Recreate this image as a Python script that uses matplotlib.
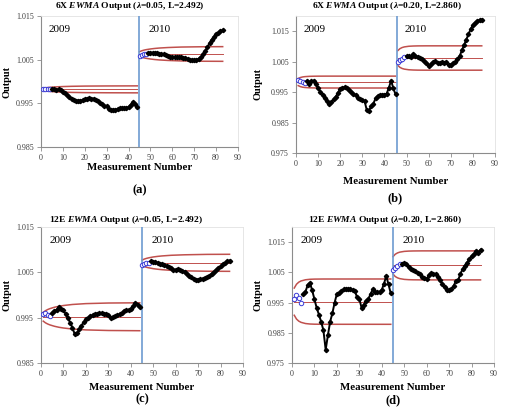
import matplotlib
matplotlib.use("Agg")
import matplotlib.pyplot as plt

plt.rcParams['font.family'] = 'Liberation Serif'
plt.rcParams['mathtext.fontset'] = 'custom'
plt.rcParams['mathtext.rm'] = 'Liberation Serif:bold'
plt.rcParams['mathtext.bf'] = 'Liberation Serif:bold'
plt.rcParams['mathtext.it'] = 'Liberation Serif:italic:bold'
plt.rcParams['mathtext.bfit'] = 'Liberation Serif:italic:bold'

# ---- data ----
# (a) 6X, lambda=0.05
a_open_x09 = [1, 2, 3, 4]
a_open_y09 = [0.9983, 0.9983, 0.9982, 0.9983]
a_x09 = list(range(5, 45))
a_y09 = [0.9983, 0.9982, 0.9981, 0.9982, 0.9980, 0.9977, 0.9973, 0.9968, 0.9964, 0.9961,
         0.9957, 0.9955, 0.9956, 0.9956, 0.9957, 0.9959, 0.9961, 0.9962, 0.9961, 0.9961,
         0.9958, 0.9955, 0.9951, 0.9948, 0.9945, 0.9943, 0.9938, 0.9935, 0.9935, 0.9935,
         0.9937, 0.9939, 0.9940, 0.9939, 0.9940, 0.9941, 0.9947, 0.9953, 0.9948, 0.9942]
a_open_x10 = [45, 46, 47, 48]
a_open_y10 = [1.0058, 1.0060, 1.0062, 1.0064]
a_x10 = list(range(49, 84))
a_y10 = [1.0065, 1.0066, 1.0066, 1.0066, 1.0065, 1.0064, 1.0063, 1.0062, 1.0060, 1.0058,
         1.0057, 1.0056, 1.0056, 1.0055, 1.0055, 1.0055, 1.0054, 1.0053, 1.0052, 1.0050,
         1.0049, 1.0049, 1.0050, 1.0052, 1.0056, 1.0062, 1.0070, 1.0078, 1.0088, 1.0096,
         1.0103, 1.0108, 1.0112, 1.0115, 1.0117]
a_lim_x09 = [1, 2, 3, 4, 6, 8, 10, 14, 20, 30, 44]
a_ucl09 = [0.99845, 0.99854, 0.99861, 0.99866, 0.99874, 0.99880, 0.99884, 0.99890, 0.99895, 0.99898, 0.99900]
a_lcl09 = [0.99795, 0.99786, 0.99779, 0.99774, 0.99766, 0.99760, 0.99756, 0.99750, 0.99745, 0.99742, 0.99740]
a_cl09 = 0.9982
a_lim_x10 = [45, 46, 47, 48, 50, 52, 54, 58, 64, 74, 83]
a_ucl10 = [1.00683, 1.00703, 1.00718, 1.00729, 1.00745, 1.00757, 1.00766, 1.00778, 1.00789, 1.00796, 1.00798]
a_lcl10 = [1.00577, 1.00557, 1.00542, 1.00531, 1.00515, 1.00503, 1.00494, 1.00482, 1.00471, 1.00464, 1.00462]
a_cl10 = 1.0063

# (b) 6X, lambda=0.20
b_open_x09 = [1, 2, 3, 4]
b_open_y09 = [0.9991, 0.9987, 0.9983, 0.9980]
b_x09 = list(range(5, 46))
b_y09 = [0.9987, 0.9975, 0.9986, 0.9988, 0.9978, 0.9962, 0.9951, 0.9942, 0.9931, 0.9922,
         0.9912, 0.9918, 0.9926, 0.9935, 0.9948, 0.9961, 0.9965, 0.9966, 0.9964, 0.9957,
         0.9950, 0.9944, 0.9939, 0.9932, 0.9928, 0.9924, 0.9921, 0.9891, 0.9889, 0.9904,
         0.9912, 0.9930, 0.9937, 0.9940, 0.9941, 0.9942, 0.9945, 0.9964, 0.9988, 0.9963, 0.9943]
b_open_x10 = [46, 47, 48, 49]
b_open_y10 = [1.0050, 1.0055, 1.0060, 1.0064]
b_x10 = list(range(50, 85))
b_y10 = [1.0067, 1.0068, 1.0066, 1.0074, 1.0070, 1.0066, 1.0062, 1.0058, 1.0052, 1.0046,
         1.0036, 1.0042, 1.0049, 1.0051, 1.0047, 1.0045, 1.0049, 1.0046, 1.0048, 1.0039,
         1.0040, 1.0044, 1.0050, 1.0058, 1.0068, 1.0087, 1.0104, 1.0122, 1.0140, 1.0157,
         1.0170, 1.0178, 1.0183, 1.0187, 1.0188]
b_lim_x09 = [1, 2, 3, 4, 6, 8, 10, 14, 45]
b_ucl09 = [0.99947, 0.99980, 0.99998, 1.00008, 1.00018, 1.00022, 1.00024, 1.00025, 1.00025]
b_lcl09 = [0.99713, 0.99680, 0.99662, 0.99652, 0.99642, 0.99638, 0.99636, 0.99635, 0.99635]
b_cl09 = 0.9983
b_lim_x10 = [46, 47, 48, 49, 51, 53, 55, 59, 84]
b_ucl10 = [1.00860, 1.00927, 1.00964, 1.00985, 1.01006, 1.01014, 1.01018, 1.01020, 1.01020]
b_lcl10 = [1.00380, 1.00313, 1.00276, 1.00255, 1.00234, 1.00226, 1.00222, 1.00220, 1.00220]
b_cl10 = 1.0062

# (c) 12E, lambda=0.05
c_open_x09 = [1, 2, 3, 4]
c_open_y09 = [0.9958, 0.9960, 0.9956, 0.9953]
c_x09 = list(range(5, 45))
c_y09 = [0.9960, 0.9964, 0.9968, 0.9973, 0.9970, 0.9966, 0.9958, 0.9949, 0.9939, 0.9928,
         0.9914, 0.9916, 0.9924, 0.9932, 0.9940, 0.9946, 0.9950, 0.9953, 0.9955, 0.9957,
         0.9959, 0.9960, 0.9960, 0.9959, 0.9958, 0.9956, 0.9950, 0.9951, 0.9954, 0.9956,
         0.9957, 0.9960, 0.9965, 0.9966, 0.9967, 0.9970, 0.9975, 0.9983, 0.9979, 0.9974]
c_open_x10 = [45, 46, 47, 48]
c_open_y10 = [1.0067, 1.0069, 1.0070, 1.0071]
c_x10 = list(range(49, 85))
c_y10 = [1.0074, 1.0073, 1.0072, 1.0071, 1.0069, 1.0068, 1.0066, 1.0064, 1.0061, 1.0059,
         1.0056, 1.0056, 1.0058, 1.0056, 1.0054, 1.0051, 1.0047, 1.0043, 1.0039, 1.0036,
         1.0034, 1.0034, 1.0035, 1.0036, 1.0038, 1.0040, 1.0043, 1.0047, 1.0051, 1.0055,
         1.0059, 1.0063, 1.0068, 1.0071, 1.0074, 1.0076]
c_lim_x09 = [1, 2, 3, 4, 6, 8, 10, 14, 20, 30, 44]
c_ucl09 = [0.99617, 0.99654, 0.99680, 0.99700, 0.99730, 0.99752, 0.99768, 0.99791, 0.99810, 0.99823, 0.99828]
c_lcl09 = [0.99423, 0.99386, 0.99360, 0.99340, 0.99310, 0.99288, 0.99272, 0.99249, 0.99230, 0.99217, 0.99212]
c_cl09 = 0.9952
c_lim_x10 = [45, 46, 47, 48, 50, 52, 54, 58, 64, 74, 84]
c_ucl10 = [1.00769, 1.00792, 1.00808, 1.00820, 1.00839, 1.00852, 1.00862, 1.00876, 1.00887, 1.00896, 1.00898]
c_lcl10 = [1.00651, 1.00628, 1.00612, 1.00600, 1.00581, 1.00568, 1.00558, 1.00544, 1.00533, 1.00524, 1.00522]
c_cl10 = 1.0071

# (d) 12E, lambda=0.20
d_open_x09 = [1, 2, 3, 4]
d_open_y09 = [0.9963, 0.9976, 0.9964, 0.9947]
d_x09 = list(range(5, 45))
d_y09 = [0.9977, 0.9986, 1.0008, 1.0015, 0.9990, 0.9961, 0.9932, 0.9910, 0.9886, 0.9858,
         0.9794, 0.9842, 0.9887, 0.9915, 0.9950, 0.9979, 0.9981, 0.9988, 0.9994, 0.9995,
         0.9995, 0.9994, 0.9991, 0.9987, 0.9968, 0.9963, 0.9932, 0.9943, 0.9955, 0.9962,
         0.9978, 0.9994, 0.9986, 0.9984, 0.9985, 0.9992, 1.0013, 1.0038, 1.0010, 0.9980]
d_open_x10 = [45, 46, 47, 48]
d_open_y10 = [1.0058, 1.0065, 1.0071, 1.0077]
d_x10 = list(range(49, 85))
d_y10 = [1.0079, 1.0080, 1.0078, 1.0066, 1.0060, 1.0057, 1.0053, 1.0047, 1.0043, 1.0036,
         1.0032, 1.0029, 1.0040, 1.0047, 1.0046, 1.0043, 1.0033, 1.0023, 1.0012, 1.0000,
         0.9992, 0.9990, 0.9996, 1.0004, 1.0022, 1.0023, 1.0045, 1.0060, 1.0072, 1.0082,
         1.0094, 1.0103, 1.0111, 1.0119, 1.0115, 1.0125]
d_lim_x09 = [1, 2, 3, 4, 6, 8, 10, 14, 44]
d_ucl09 = [0.99980, 1.00106, 1.00174, 1.00214, 1.00254, 1.00270, 1.00276, 1.00279, 1.00280]
d_lcl09 = [0.99080, 0.98954, 0.98886, 0.98846, 0.98806, 0.98790, 0.98784, 0.98781, 0.98780]
d_cl09 = 0.9953
d_lim_x10 = [45, 46, 47, 48, 50, 52, 54, 58, 84]
d_ucl10 = [1.01018, 1.01099, 1.01142, 1.01168, 1.01193, 1.01203, 1.01207, 1.01210, 1.01210]
d_lcl10 = [1.00442, 1.00361, 1.00318, 1.00292, 1.00267, 1.00257, 1.00253, 1.00250, 1.00250]
d_cl10 = 1.0073

titles = [r"6X $\mathbfit{EWMA}$ Output ($\lambda$=0.05, L=2.492)",
          r"6X $\mathbfit{EWMA}$ Output ($\lambda$=0.20, L=2.860)",
          r"12E $\mathbfit{EWMA}$ Output ($\lambda$=0.05, L=2.492)",
          r"12E $\mathbfit{EWMA}$ Output ($\lambda$=0.20, L=2.860)"]
letters = ["(a)", "(b)", "(c)", "(d)"]
yticks_ab = [0.985, 0.995, 1.005, 1.015]
yticks_bd = [0.975, 0.985, 0.995, 1.005, 1.015]

W, H = 505, 408
RED = "#c0504d"
BLUE = "#6d9bd1"
OPEN = "#3b3bd6"


def fx(px):
    return px / W


def fy(py):
    return 1 - py / H


fig = plt.figure(figsize=(W / 100, H / 100), dpi=100)

panels = [
    dict(box=(41, 16, 238, 147), ylim=(0.985, 1.015), yt=yticks_ab, vline=44.6,
         open09=(a_open_x09, a_open_y09), line09=(a_x09, a_y09),
         open10=(a_open_x10, a_open_y10), line10=(a_x10, a_y10),
         lim09=(a_lim_x09, a_ucl09, a_lcl09, a_cl09), lim10=(a_lim_x10, a_ucl10, a_lcl10, a_cl10),
         title_xy=(130, 6), xl_y=168, let_y=190, yl_x=7),
    dict(box=(296, 16, 495, 153), ylim=(0.975, 1.020), yt=yticks_bd, vline=45.5,
         open09=(b_open_x09, b_open_y09), line09=(b_x09, b_y09),
         open10=(b_open_x10, b_open_y10), line10=(b_x10, b_y10),
         lim09=(b_lim_x09, b_ucl09, b_lcl09, b_cl09), lim10=(b_lim_x10, b_ucl10, b_lcl10, b_cl10),
         title_xy=(387, 6), xl_y=182, let_y=198, yl_x=258),
    dict(box=(41, 227, 243, 363), ylim=(0.985, 1.015), yt=yticks_ab, vline=45.0,
         open09=(c_open_x09, c_open_y09), line09=(c_x09, c_y09),
         open10=(c_open_x10, c_open_y10), line10=(c_x10, c_y10),
         lim09=(c_lim_x09, c_ucl09, c_lcl09, c_cl09), lim10=(c_lim_x10, c_ucl10, c_lcl10, c_cl10),
         title_xy=(126, 220), xl_y=387, let_y=399, yl_x=7),
    dict(box=(292, 227, 494, 363), ylim=(0.975, 1.020), yt=yticks_bd, vline=44.8,
         open09=(d_open_x09, d_open_y09), line09=(d_x09, d_y09),
         open10=(d_open_x10, d_open_y10), line10=(d_x10, d_y10),
         lim09=(d_lim_x09, d_ucl09, d_lcl09, d_cl09), lim10=(d_lim_x10, d_ucl10, d_lcl10, d_cl10),
         title_xy=(385, 220), xl_y=387, let_y=400, yl_x=258),
]

for i, p in enumerate(panels):
    x0, y0, x1, y1 = p["box"]
    ax = fig.add_axes([fx(x0), fy(y1), (x1 - x0) / W, (y1 - y0) / H])
    ax.set_xlim(0, 90)
    ax.set_ylim(*p["ylim"])
    ax.set_xticks(range(0, 91, 10))
    ax.set_yticks(p["yt"])
    ax.set_yticklabels(["%.3f" % v for v in p["yt"]])
    for s in ["left", "bottom"]:
        ax.spines[s].set_color("#8c8c8c")
        ax.spines[s].set_linewidth(0.8)
    for s in ["top", "right"]:
        ax.spines[s].set_color("#e2e2e2")
        ax.spines[s].set_linewidth(0.6)
    ax.tick_params(direction="out", length=3, width=0.6, color="#8c8c8c",
                   labelsize=5.8, labelcolor="#404040", pad=2)

    for key in ["lim09", "lim10"]:
        lx, ucl, lcl, cl = p[key]
        ax.plot(lx, ucl, color=RED, lw=1.1, zorder=2)
        ax.plot(lx, lcl, color=RED, lw=1.1, zorder=2)
        ax.plot([lx[0], lx[-1]], [cl, cl], color=RED, lw=0.7, zorder=2)

    ax.axvline(p["vline"], color=BLUE, lw=1.2, zorder=3)

    for key in ["open09", "open10"]:
        ox, oy = p[key]
        ax.plot(ox, oy, ls=":", lw=0.7, color=OPEN, marker="o", ms=3.2,
                mfc="white", mec=OPEN, mew=0.7, zorder=4)
    for key in ["line09", "line10"]:
        bx, by = p[key]
        ax.plot(bx, by, color="black", lw=1.4, marker="D", ms=2.2, zorder=5)

    ax.text(0.04, 0.90, "2009", transform=ax.transAxes, fontsize=8, va="center")
    ax.text(0.545, 0.90, "2010", transform=ax.transAxes, fontsize=8, va="center")

    tx, ty = p["title_xy"]
    fig.text(fx(tx), fy(ty), titles[i], fontsize=6.8, fontweight="bold",
             ha="center", va="center")
    fig.text(fx((x0 + x1) / 2), fy(p["xl_y"]), "Measurement Number", fontsize=7.8,
             fontweight="bold", ha="center", va="center")
    fig.text(fx((x0 + x1) / 2), fy(p["let_y"]), letters[i], fontsize=9,
             fontweight="bold", ha="center", va="center")
    fig.text(fx(p["yl_x"]), fy((y0 + y1) / 2), "Output", fontsize=7.5,
             fontweight="bold", rotation=90, ha="center", va="center")

fig.savefig("out.png", dpi=100)
